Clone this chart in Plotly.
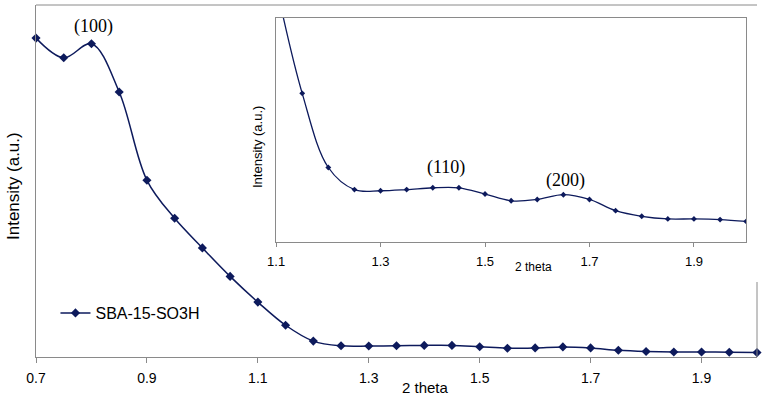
import plotly.graph_objects as go

two_theta = [0.70, 0.75, 0.80, 0.85, 0.90, 0.95, 1.00, 1.05, 1.10, 1.15, 1.20, 1.25, 1.30, 1.35,
             1.40, 1.45, 1.50, 1.55, 1.60, 1.65, 1.70, 1.75, 1.80, 1.85, 1.90, 1.95, 2.00]
intensity = [90.6, 85.0, 89.0, 75.3, 50.2, 39.4, 31.0, 22.9, 15.6, 9.02, 4.52, 3.18, 3.11, 3.18,
             3.29, 3.29, 2.91, 2.50, 2.58, 2.87, 2.58, 1.90, 1.56, 1.40, 1.40, 1.36, 1.25]
series_name = "SBA-15-SO3H"
main_ticks = [0.7, 0.9, 1.1, 1.3, 1.5, 1.7, 1.9]
inset_ticks = [1.1, 1.3, 1.5, 1.7, 1.9]
inset_from = 1.10

NAVY = "#0d1a5c"
GRAY = "#8a8a8a"
SANS = "Liberation Sans, Arial, sans-serif"
SERIF = "Liberation Serif, Times New Roman, serif"

ix = [x for x in two_theta if x >= inset_from - 1e-9]
iy = [y for x, y in zip(two_theta, intensity) if x >= inset_from - 1e-9]

fig = go.Figure()
fig.add_trace(go.Scatter(
    x=two_theta, y=intensity, name=series_name, mode="lines+markers",
    line=dict(color=NAVY, width=1.5, shape="spline", smoothing=1),
    marker=dict(symbol="diamond", size=7, color=NAVY),
    cliponaxis=False, xaxis="x", yaxis="y"))
fig.add_trace(go.Scatter(
    x=ix, y=iy, showlegend=False, mode="lines+markers",
    line=dict(color=NAVY, width=1.3, shape="spline", smoothing=1),
    marker=dict(symbol="diamond", size=4.5, color=NAVY),
    cliponaxis=True, xaxis="x2", yaxis="y2"))

fig.update_layout(
    width=767, height=395,
    margin=dict(l=36, r=10, t=5, b=38),
    paper_bgcolor="white", plot_bgcolor="white",
    showlegend=True,
    legend=dict(x=0.027, y=0.125, xanchor="left", yanchor="middle",
                font=dict(family=SANS, size=16, color="black"),
                bgcolor="rgba(0,0,0,0)"),
    xaxis=dict(domain=[0, 1], range=[0.7, 2.0], tickvals=main_ticks,
               ticktext=[f"{t:.1f}" for t in main_ticks],
               showline=True, linecolor=GRAY, linewidth=1, ticks="outside",
               ticklen=5, tickcolor=GRAY, showgrid=False, zeroline=False,
               tickfont=dict(family=SANS, size=14, color="black"),
               ticklabelstandoff=3),
    yaxis=dict(domain=[0, 1], range=[0, 100], showline=True, linecolor=GRAY,
               linewidth=1, showticklabels=False, ticks="", showgrid=False,
               zeroline=False),
    xaxis2=dict(domain=[0.333, 0.985], range=[1.1, 2.0], anchor="y2",
                tickvals=inset_ticks, ticktext=[f"{t:.1f}" for t in inset_ticks],
                showline=True, mirror=True, linecolor=GRAY, linewidth=1,
                ticks="outside", ticklen=4, tickcolor=GRAY, showgrid=False,
                zeroline=False, tickfont=dict(family=SANS, size=13, color="black"),
                ticklabelstandoff=3),
    yaxis2=dict(domain=[0.3267, 0.963], range=[0, 13.59], anchor="x2",
                showline=True, mirror=True, linecolor=GRAY, linewidth=1,
                showticklabels=False, ticks="", showgrid=False, zeroline=False),
)

# main frame top and partial right border
fig.add_shape(type="line", xref="paper", yref="paper", x0=0, x1=1, y0=1, y1=1,
              line=dict(color=GRAY, width=1))
fig.add_shape(type="line", xref="paper", yref="paper", x0=1, x1=1, y0=0, y1=0.213,
              line=dict(color=GRAY, width=1))

ann = [
    dict(text="Intensity (a.u.)", x=13, y=186, size=17, font=SANS, rot=-90),
    dict(text="2 theta", x=425, y=387, size=15, font=SANS, rot=0),
    dict(text="Intensity (a.u.)", x=257, y=147, size=13, font=SANS, rot=-90),
    dict(text="2 theta", x=533, y=267, size=12, font=SANS, rot=0),
    dict(text="(100)", x=93, y=26, size=18, font=SERIF, rot=0),
    dict(text="(110)", x=446, y=167, size=18, font=SERIF, rot=0),
    dict(text="(200)", x=565, y=180, size=18, font=SERIF, rot=0),
]
pl, pr, pt, pb = 36, 757, 5, 357
for a in ann:
    fig.add_annotation(
        text=a["text"], xref="paper", yref="paper",
        x=(a["x"] - pl) / (pr - pl), y=(pb - a["y"]) / (pb - pt),
        xanchor="center", yanchor="middle", showarrow=False, textangle=a["rot"],
        font=dict(family=a["font"], size=a["size"], color="black"))

fig.write_html("out.html", config={"displayModeBar": False},
               post_script="document.body.style.margin='0';document.body.style.overflow='hidden';")
